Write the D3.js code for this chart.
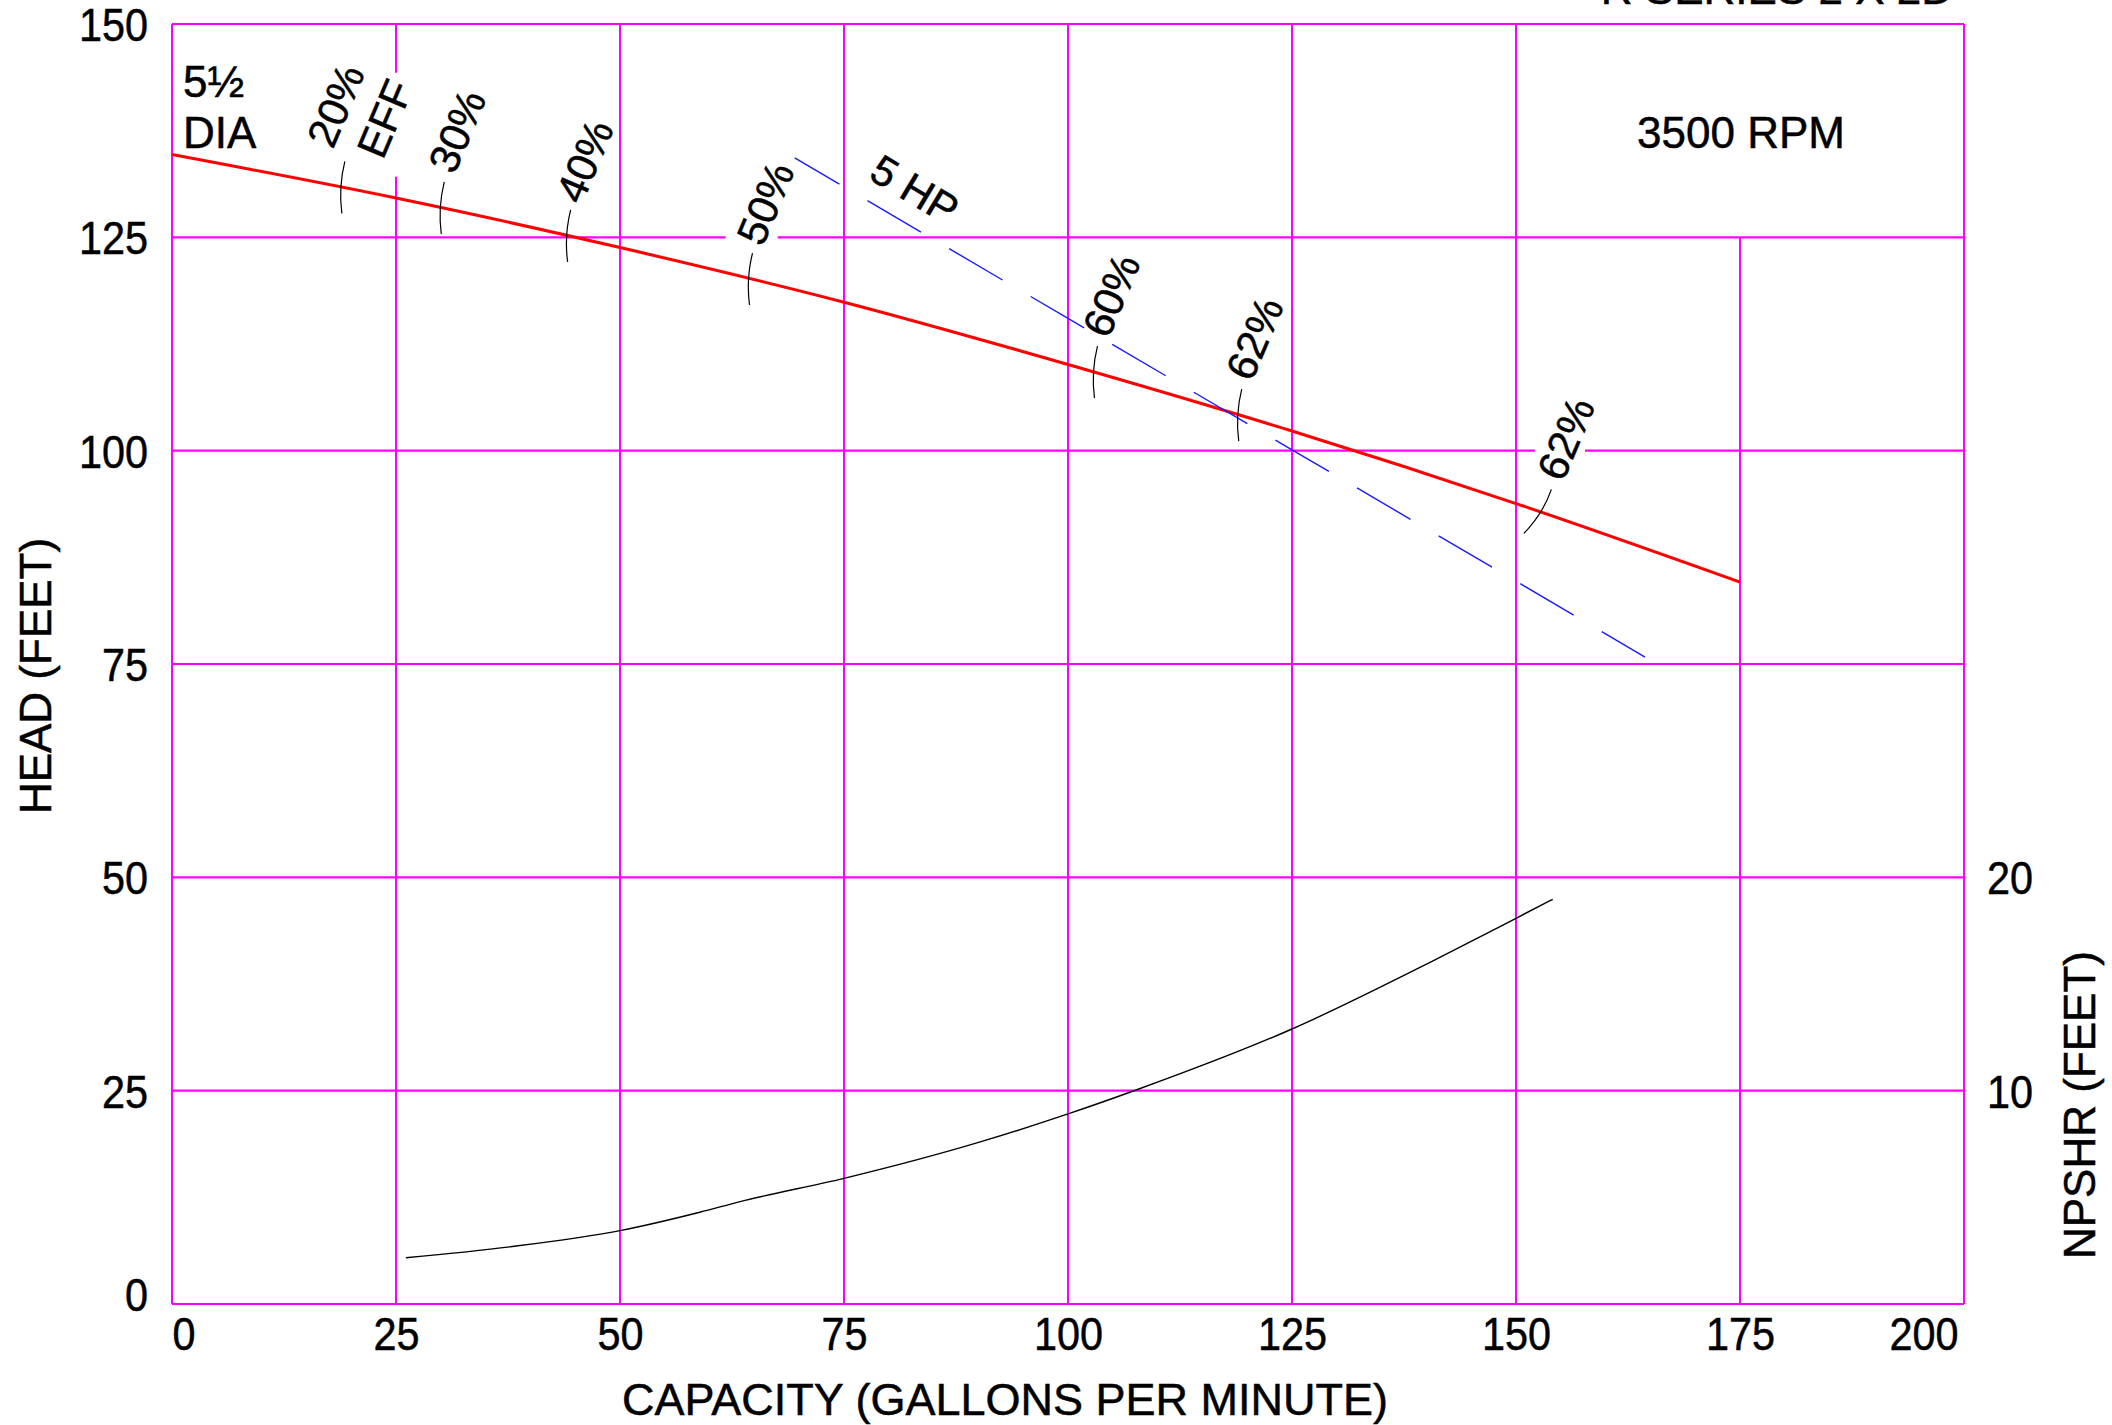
<!DOCTYPE html>
<html><head><meta charset="utf-8">
<script src="https://cdn.jsdelivr.net/npm/d3@7"></script>
<style>
html,body{margin:0;padding:0;background:#fff;}
svg{display:block;}
text{font-family:"Liberation Sans",Arial,Helvetica,sans-serif;fill:#000;stroke:#000;stroke-width:0.5px;}
</style>
</head><body>
<svg id="c" width="2112" height="1425"></svg>
<script>
// ---------- data ----------
const xTicks = [0, 25, 50, 75, 100, 125, 150, 175, 200];
const yTicks = [0, 25, 50, 75, 100, 125, 150];
const npshrTicks = [10, 20];

// Head curve (5 1/2 dia)
const headQ = [0, 25, 50, 75, 100, 125, 150, 175];
const headH = [134.7, 129.6, 123.8, 117.4, 110.1, 102.3, 93.8, 84.6];

// 5 HP line
const hpQ = [69.5, 100, 125, 150, 164.4];
const hpH = [134.3, 115.5, 100.1, 84.7, 75.8];

// NPSHR curve (feet)
const npshrQ = [26.1, 37.7, 50, 58.9, 63.4, 75, 90.3, 100, 107.6, 125, 140.9, 150, 154.1];
const npshrV = [2.17, 2.68, 3.44, 4.30, 4.80, 5.89, 7.61, 8.91, 10.03, 12.89, 16.12, 18.08, 18.97];

// Efficiency points on head curve
const effLabels = ["20%", "30%", "40%", "50%", "60%", "62%", "62%"];
const effQ = [18.9, 30, 44.1, 64.4, 102.9, 119, 152.5];

// ---------- layout ----------
const L = 172, R = 1964, T = 24, B = 1304;
const svg = d3.select("#c");
const x = d3.scaleLinear().domain([0, 200]).range([L, R]);
const y = d3.scaleLinear().domain([0, 150]).range([B, T]);
const yN = d3.scaleLinear().domain([0, 60]).range([B, T]);
const MAG = "#ff00ff";

// ---------- grid ----------
const g = svg.append("g");
const vGaps = {25: [132.1, 144.3]};
const hGaps = {125: [61.8, 67.6], 100: [152.1, 157.7]};
xTicks.forEach(v => {
  const top = v === 175 ? 125 : 150;
  const segs = vGaps[v] ? [[0, vGaps[v][0]], [vGaps[v][1], top]] : [[0, top]];
  segs.forEach(s => g.append("line")
    .attr("x1", x(v)).attr("x2", x(v)).attr("y1", y(s[0])).attr("y2", y(s[1]))
    .attr("stroke", MAG).attr("stroke-width", 2));
});
yTicks.forEach(v => {
  const segs = hGaps[v] ? [[0, hGaps[v][0]], [hGaps[v][1], 200]] : [[0, 200]];
  segs.forEach(s => g.append("line")
    .attr("x1", x(s[0])).attr("x2", x(s[1])).attr("y1", y(v)).attr("y2", y(v))
    .attr("stroke", MAG).attr("stroke-width", 2.2));
});

// ---------- axes ----------
const TS = 0.9, FS = 46;
const ax = svg.append("g").attr("transform", `translate(0,${B})`)
  .call(d3.axisBottom(x).tickValues(xTicks).tickSize(0).tickFormat(d3.format("d")));
ax.select(".domain").remove();
ax.selectAll("text")
  .attr("font-size", FS).attr("font-family", null)
  .attr("y", 46).attr("dy", null)
  .attr("transform", `scale(${TS},1)`)
  .each(function(d) {
    const t = d3.select(this);
    if (d === 0) t.attr("text-anchor", "start").attr("x", 0);
    else if (d === 200) t.attr("text-anchor", "end").attr("x", -6 / TS);
    else t.attr("text-anchor", "middle").attr("x", 0);
  });

const ay = svg.append("g").attr("transform", `translate(${L},0)`)
  .call(d3.axisLeft(y).tickValues(yTicks).tickSize(0).tickFormat(d3.format("d")));
ay.select(".domain").remove();
ay.selectAll("text")
  .attr("font-size", FS).attr("font-family", null)
  .attr("x", -24 / TS).attr("dy", "0.36em")
  .attr("transform", `scale(${TS},1)`)
  .attr("y", d => d === 0 ? -10 : 0);

const ar = svg.append("g").attr("transform", `translate(${R},0)`)
  .call(d3.axisRight(yN).tickValues(npshrTicks).tickSize(0).tickFormat(d3.format("d")));
ar.select(".domain").remove();
ar.selectAll("text")
  .attr("font-size", FS).attr("font-family", null)
  .attr("x", 23 / TS).attr("dy", "0.36em")
  .attr("transform", `scale(${TS},1)`);

// axis titles
svg.append("text").attr("x", 1005).attr("y", 1415).attr("text-anchor", "middle")
  .attr("font-size", 45).text("CAPACITY (GALLONS PER MINUTE)");
svg.append("text").attr("transform", "translate(51,676) rotate(-90)").attr("text-anchor", "middle")
  .attr("font-size", 44).text("HEAD (FEET)");
svg.append("text").attr("transform", "translate(2095,1105) rotate(-90)").attr("text-anchor", "middle")
  .attr("font-size", 44).text("NPSHR (FEET)");

// ---------- curves ----------
const headData = headQ.map((q, i) => ({q, h: headH[i]}));
svg.append("path").datum(headData)
  .attr("d", d3.line().x(d => x(d.q)).y(d => y(d.h)).curve(d3.curveMonotoneX))
  .attr("fill", "none").attr("stroke", "#ff0000").attr("stroke-width", 3);

const hpData = hpQ.map((q, i) => ({q, h: hpH[i]}));
svg.append("path").datum(hpData)
  .attr("d", d3.line().x(d => x(d.q)).y(d => y(d.h)))
  .attr("fill", "none").attr("stroke", "#1a1aff").attr("stroke-width", 1.4)
  .attr("stroke-dasharray", "62 32.6").attr("stroke-dashoffset", 10.2);

const npData = npshrQ.map((q, i) => ({q, v: npshrV[i]}));
svg.append("path").datum(npData)
  .attr("d", d3.line().x(d => x(d.q)).y(d => yN(d.v)).curve(d3.curveMonotoneX))
  .attr("fill", "none").attr("stroke", "#000").attr("stroke-width", 1.4);

// ---------- efficiency marks ----------
const headAt = q => {
  for (let i = 0; i < headQ.length - 1; i++) {
    if (q >= headQ[i] && q <= headQ[i + 1]) {
      const t = (q - headQ[i]) / (headQ[i + 1] - headQ[i]);
      return headH[i] + t * (headH[i + 1] - headH[i]);
    }
  }
  return headH[headH.length - 1];
};
const labOff = [[-6, -82], [16, -77], [17, -75], [16, -76], [17, -77], [16, -77], [27, -73]];
const ANG = -67;
effQ.forEach((q, i) => {
  const cx = x(q), cy = y(headAt(q));
  let d;
  if (i === effQ.length - 1) {
    d = `M${cx + 13},${cy - 22} Q${cx + 4.75},${cy + 2} ${cx - 14.5},${cy + 22}`;
  } else {
    d = `M${cx + 3.5},${cy - 26} Q${cx - 3},${cy} ${cx + 0.5},${cy + 26}`;
  }
  svg.append("path").attr("d", d).attr("fill", "none").attr("stroke", "#000").attr("stroke-width", 1.2);
  svg.append("text")
    .attr("transform", `translate(${cx + labOff[i][0]},${cy + labOff[i][1]}) rotate(${ANG})`)
    .attr("text-anchor", "middle").attr("dy", "0.36em").attr("font-size", 42)
    .text(effLabels[i]);
  if (i === 0) {
    svg.append("text")
      .attr("transform", `translate(${cx + 43},${cy - 69}) rotate(${ANG})`)
      .attr("text-anchor", "middle").attr("dy", "0.36em").attr("font-size", 42)
      .text("EFF");
  }
});

// ---------- annotations ----------
svg.append("text").attr("transform", "translate(915,189) rotate(31)")
  .attr("text-anchor", "middle").attr("dy", "0.36em").attr("font-size", 42).text("5 HP");
svg.append("text").attr("x", 183).attr("y", 97).attr("font-size", 44).text("5½");
svg.append("text").attr("x", 183).attr("y", 148).attr("font-size", 44).text("DIA");
svg.append("text").attr("x", 1741).attr("y", 148).attr("text-anchor", "middle").attr("font-size", 44).text("3500 RPM");
svg.append("text").attr("x", 1953).attr("y", 4).attr("text-anchor", "end").attr("font-size", 44).text("R SERIES 2 X 2D");
</script>
</body></html>
